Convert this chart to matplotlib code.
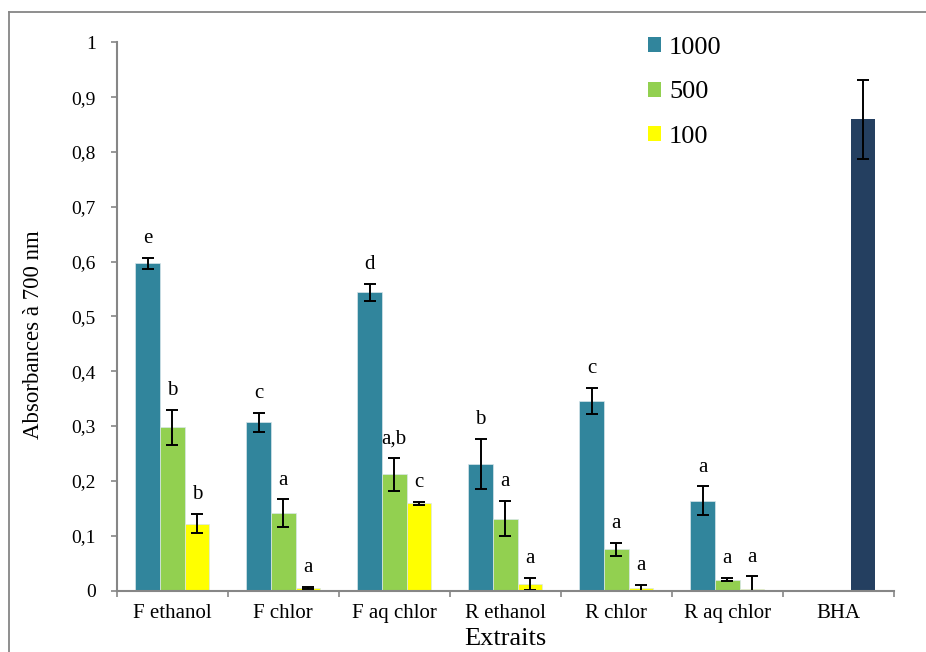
import matplotlib
matplotlib.use("Agg")
import matplotlib.pyplot as plt
from matplotlib.patches import Patch
from matplotlib.lines import Line2D
import numpy as np

plt.rcParams['font.family'] = ['Liberation Serif', 'DejaVu Serif']

# Extracts and measured absorbance (mean, sd) for three concentrations
extraits = ["F ethanol", "F chlor", "F aq chlor", "R ethanol", "R chlor", "R aq chlor", "BHA"]
series_names = ["1000", "500", "100"]

v1000 = [0.597, 0.307, 0.544, 0.231, 0.346, 0.164]
e1000 = [0.010, 0.017, 0.016, 0.045, 0.024, 0.026]
v500 = [0.298, 0.141, 0.212, 0.131, 0.075, 0.020]
e500 = [0.032, 0.025, 0.030, 0.032, 0.012, 0.003]
v100 = [0.122, 0.004, 0.159, 0.012, 0.004, 0.003]
e100 = [0.018, 0.002, 0.003, 0.011, 0.006, 0.023]

bha_value = 0.86
bha_err = 0.072

letters1000 = ["e", "c", "d", "b", "c", "a"]
letters500 = ["b", "a", "a,b", "a", "a", "a"]
letters100 = ["b", "a", "c", "a", "a", "a"]

colors = ["#31859C", "#92D050", "#FFFF00"]
bha_color = "#243F60"
axis_gray = "#868686"

fig = plt.figure(figsize=(9.26, 6.52), dpi=100)
ax = fig.add_axes([116.7 / 926, 1 - 590.5 / 652, (893.7 - 116.7) / 926, (590.5 - 42.3) / 652])

n = len(v1000)
x = np.arange(n)
w = 1 / 4.5  # Excel-style 150% gap width with three series
offsets = [-w, 0, w]
vals = [v1000, v500, v100]
errs = [e1000, e500, e100]
labels = [letters1000, letters500, letters100]

err_kw = dict(ecolor="black", elinewidth=1.4, capsize=4.3, capthick=1.4)

for k in range(3):
    ax.bar(x + offsets[k], vals[k], width=w, color=colors[k], edgecolor="#d8e6ea",
           linewidth=0.5, yerr=errs[k], error_kw=err_kw, zorder=2)
    for i in range(n):
        top = vals[k][i] + errs[k][i]
        ax.annotate(labels[k][i], (x[i] + offsets[k], top), xytext=(0, 7),
                    textcoords="offset points", ha="center", va="bottom", fontsize=15)

# BHA reference occupies the third slot of its category
ax.bar([n + offsets[2]], [bha_value], width=w, color=bha_color, yerr=[bha_err],
       error_kw=err_kw, zorder=2)

ax.set_xlim(-0.5, len(extraits) - 0.5)
ax.set_ylim(0, 1)

yt = np.round(np.arange(0, 1.01, 0.1), 1)
ax.set_yticks(yt)
ax.set_yticklabels([("%g" % t).replace(".", ",") for t in yt], fontsize=14)

ax.set_xticks(np.arange(-0.5, len(extraits), 1.0))
ax.set_xticklabels([])
ax.set_xticks(np.arange(len(extraits)), minor=True)
ax.set_xticklabels(extraits, minor=True, fontsize=15)
ax.tick_params(axis="x", which="minor", length=0, pad=10)
ax.tick_params(axis="x", which="major", length=4.5, width=1.2, color=axis_gray, direction="out")
ax.tick_params(axis="y", length=4.5, width=1.2, color=axis_gray, direction="out", pad=10.5)

for s in ["top", "right"]:
    ax.spines[s].set_visible(False)
for s in ["left", "bottom"]:
    ax.spines[s].set_color(axis_gray)
    ax.spines[s].set_linewidth(1.5)

fig.text(33.5 / 926, 1 - 335 / 652, "Absorbances à 700 nm", rotation=90,
         ha="center", va="center", fontsize=16.5)
fig.text(505 / 926, 1 - 639 / 652, "Extraits", ha="center", va="center", fontsize=19)

handles = [Patch(facecolor=c, edgecolor="none") for c in colors]
leg = ax.legend(handles, series_names, loc="upper left",
                bbox_to_anchor=(648 / 926, 1 - 37 / 652), bbox_transform=fig.transFigure,
                frameon=False, fontsize=19, handlelength=0.5, handleheight=0.5,
                handletextpad=0.3, labelspacing=0.85, borderaxespad=0, borderpad=0)

# chart area frame
fig.add_artist(Line2D([9.3 / 926, 9.3 / 926], [0, 1 - 12 / 652], transform=fig.transFigure,
                      color=axis_gray, linewidth=1.3))
fig.add_artist(Line2D([9.3 / 926, 1], [1 - 12 / 652, 1 - 12 / 652], transform=fig.transFigure,
                      color=axis_gray, linewidth=1.3))

fig.savefig("out.png", dpi=100)
